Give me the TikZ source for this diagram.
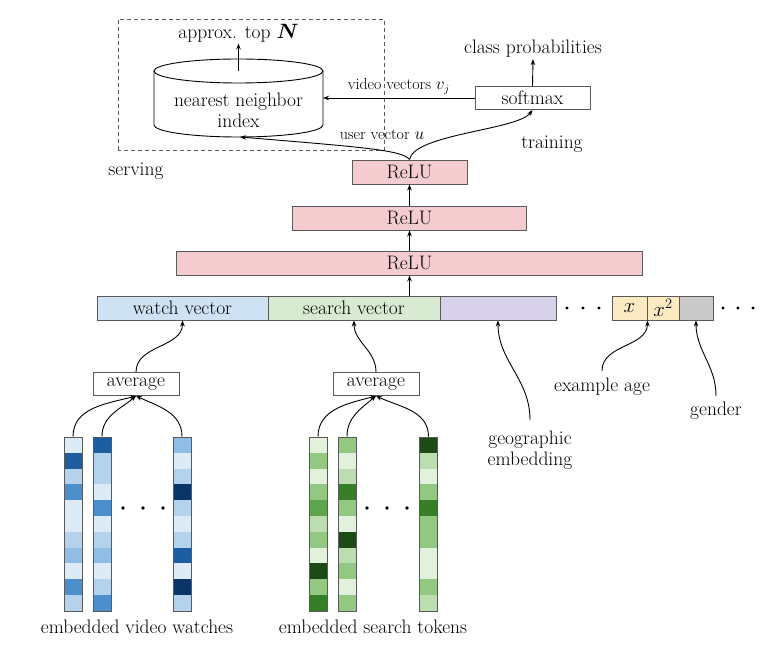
\documentclass[tikz,border=0pt]{standalone}
\usepackage{amsmath}
\usepackage{bm}
\usepackage{tikz}
\usetikzlibrary{arrows.meta}

\definecolor{boxgray}{HTML}{5A5A5A}
\definecolor{relufill}{HTML}{F4CCCF}
\definecolor{watchfill}{HTML}{CFE2F3}
\definecolor{searchfill}{HTML}{D9EAD3}
\definecolor{geofill}{HTML}{D7D1EA}
\definecolor{agefill}{HTML}{FCEBC2}
\definecolor{gendfill}{HTML}{C9C9C9}
% blue shades
\definecolor{wA}{HTML}{DDEBF7}
\definecolor{wB}{HTML}{B5D2EC}
\definecolor{wC}{HTML}{8FBDE4}
\definecolor{wD}{HTML}{4D8ECC}
\definecolor{wE}{HTML}{1D5C9E}
\definecolor{wF}{HTML}{0B3566}
% green shades
\definecolor{gA}{HTML}{E2F1DC}
\definecolor{gB}{HTML}{BCDDB0}
\definecolor{gC}{HTML}{92C882}
\definecolor{gD}{HTML}{5FA54D}
\definecolor{gE}{HTML}{367F27}
\definecolor{gF}{HTML}{1E4A17}

\tikzset{
  every node/.style={font=\fontsize{19.5}{21}\selectfont},
  lbl/.style={inner sep=1pt},
  smalllbl/.style={font=\fontsize{16}{18}\selectfont, inner sep=1pt},
  layer/.style={draw=boxgray, fill=relufill, minimum height=24pt, inner sep=0pt},
  feat/.style={draw=boxgray, minimum height=24pt, inner sep=0pt},
  plain/.style={draw=boxgray, fill=white, minimum height=23pt, inner sep=0pt},
  colbox/.style={draw=boxgray, minimum width=18pt, minimum height=174pt, inner sep=0pt},
}

\begin{document}
\begin{tikzpicture}[x=1pt, y=1pt, line width=0.9pt, >={Stealth[length=6pt,width=4.5pt]}]
        \useasboundingbox (0,0) rectangle (769,646);
        \def\ch{15.8}

        % Serving
        \draw[boxgray, dash pattern=on 4pt off 3pt] (118,496) rectangle (384,627);
        \node[lbl] (serving) at (136,475) {serving};
        \node[lbl] (topn) at (238.5,613) {approx. top $\bm{N}$};

        % Index
        \draw[fill=white] (154,575) -- (154,521) arc[start angle=180, end angle=360, x radius=84.5, y radius=12] -- (323,575);
        \draw (238.5,575) ellipse [x radius=84.5, y radius=12];
        \node[lbl, align=center] (nn) at (238.5,536) {nearest neighbor\\index};
        \coordinate (nntop) at (238.5,575);
        \coordinate (nnbot) at (240,509);
        \coordinate (nnright) at (323,548);
        \draw[->] (nntop) -- (topn);

        % Training
        \node[plain, minimum width=115pt] (softmax) at (532.5,548) {softmax};
        \node[lbl] (classprob) at (533,597) {class probabilities};
        \node[lbl] (training) at (552,502) {training};
        \draw[->] (softmax.north) -- (classprob.south);
        \draw[->] (softmax.west) -- (nnright) node[smalllbl, midway, above=2pt] {video vectors $v_j$};

        % Layers
        \node[layer, minimum width=115pt] (relu3) at (409.5,474) {ReLU};
        \node[layer, minimum width=234pt] (relu2) at (409.5,428) {ReLU};
        \node[layer, minimum width=466pt] (relu1) at (409.5,383) {ReLU};
        \draw[->] (relu1.north) -- (relu2.south);
        \draw[->] (relu2.north) -- (relu3.south);
        \draw[->] (relu3.north) .. controls (403,496) and (360,499) .. (nnbot);
        \draw[->] (relu3.north) .. controls (414,512) and (518,516) .. (softmax.south);
        \node[smalllbl] (uservec) at (382,511) {user vector $u$};

        % Feature row
        \node[feat, fill=watchfill, minimum width=171pt] (watch) at (182.5,338) {watch vector};
        \node[feat, fill=searchfill, minimum width=172pt] (search) at (354,338) {search vector};
        \node[feat, fill=geofill, minimum width=116pt] (geo) at (498,338) {};
        \node[feat, fill=agefill, minimum width=35pt] (xa) at (629.5,338) {$x$};
        \node[feat, fill=agefill, minimum width=32pt] (xb) at (663,338) {$x^2$};
        \node[feat, fill=gendfill, minimum width=34pt] (gend) at (696,338) {};
        \foreach \x in {567,583,599,723,738,753}
            \fill (\x,338) circle (1.6);
        \draw[->] (search.north -| relu1.south) -- (relu1.south);

        % Averages
        \node[plain, minimum width=86pt] (avgw) at (136,262) {average};
        \node[plain, minimum width=86pt] (avgs) at (376,262) {average};
        \draw[->] (avgw.north) to[out=90, in=-90] (watch.south);
        \draw[->] (avgs.north) to[out=90, in=-90] (search.south);

        % Other features
        \node[lbl, align=center] (geolbl) at (530,195.5) {geographic\\embedding};
        \node[lbl] (agelbl) at (602,259) {example age};
        \node[lbl] (gendlbl) at (716,235) {gender};
        \draw[->] ([yshift=10pt]geolbl.north) to[out=90, in=-90] (geo.south);
        \draw[->] ([yshift=6pt]agelbl.north) to[out=90, in=-90] (xa.south east);
        \draw[->] ([yshift=5pt]gendlbl.north) to[out=90, in=-90] (gend.south);

        % Embedded video watches
        \foreach \cx/\lv [count=\k] in {73/{A,E,B,D,A,A,B,C,A,D,B}, 102/{E,B,B,A,D,A,B,C,A,B,D}, 182/{C,A,B,F,B,A,B,E,A,F,B}} {
            \foreach \c [count=\i] in \lv
                \fill[w\c] (\cx-9, 209-\i*\ch+\ch) rectangle ++(18,-\ch);
            \node[colbox] (w\k) at (\cx,122) {};
        }
        \foreach \x in {123,143,163}
            \fill (\x,138) circle (1.8);
        \draw[->] (w1.north) to[out=90, in=-165] (avgw.south);
        \draw[->] (w2.north) to[out=90, in=-140] (avgw.south);
        \draw[->] (w3.north) to[out=90, in=-25] (avgw.south);
        \node[lbl] (watchlbl) at (137,19) {embedded video watches};

        % Embedded search tokens
        \foreach \cx/\lv [count=\k] in {318/{A,C,A,C,D,B,C,A,F,C,E}, 347/{C,A,B,E,C,A,F,B,C,A,C}, 428.5/{F,B,A,C,E,C,C,A,A,C,B}} {
            \foreach \c [count=\i] in \lv
                \fill[g\c] (\cx-9, 209-\i*\ch+\ch) rectangle ++(18,-\ch);
            \node[colbox] (s\k) at (\cx,122) {};
        }
        \foreach \x in {367,387,407}
            \fill (\x,138) circle (1.8);
        \draw[->] (s1.north) to[out=90, in=-165] (avgs.south);
        \draw[->] (s2.north) to[out=90, in=-140] (avgs.south);
        \draw[->] (s3.north) to[out=90, in=-25] (avgs.south);
        \node[lbl] (searchlbl) at (373,19) {embedded search tokens};
\end{tikzpicture}
\end{document}
